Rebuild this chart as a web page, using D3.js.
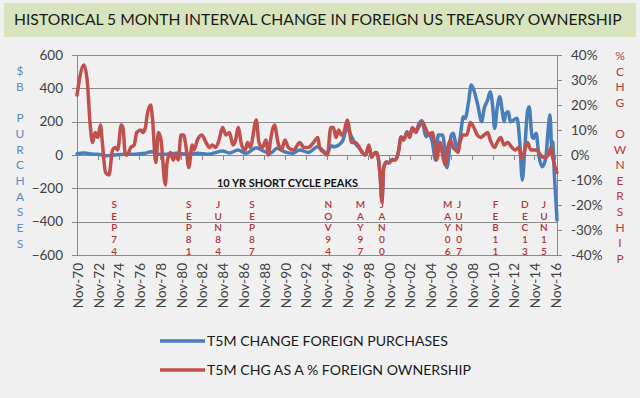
<!DOCTYPE html>
<html><head><meta charset="utf-8">
<script src="https://cdn.jsdelivr.net/npm/d3@7"></script>
<style>body{margin:0;background:#f0f0f0;} svg{display:block;font-family:Lato,"Open Sans",sans-serif;}</style>
</head><body>
<svg id="chart" width="640" height="398"></svg>
<script>
// ---------- DATA ----------
const titleText = "HISTORICAL 5 MONTH INTERVAL CHANGE IN FOREIGN US TREASURY OWNERSHIP";
const seriesNames = ["T5M CHANGE FOREIGN PURCHASES", "T5M CHG AS A % FOREIGN OWNERSHIP"];
const xTickLabels = ["Nov-70","Nov-72","Nov-74","Nov-76","Nov-78","Nov-80","Nov-82","Nov-84","Nov-86","Nov-88","Nov-90","Nov-92","Nov-94","Nov-96","Nov-98","Nov-00","Nov-02","Nov-04","Nov-06","Nov-08","Nov-10","Nov-12","Nov-14","Nov-16"];
const leftTicks = [-600,-400,-200,0,200,400,600];
const rightTicks = [-40,-30,-20,-10,0,10,20,30,40];
const leftTitle = ["$","B","","P","U","R","C","H","A","S","E","S"];
const rightTitle = ["%","C","H","G","","O","W","N","E","R","S","H","I","P"];
const peakNote = "10 YR SHORT CYCLE PEAKS";
const peakLabels = ["SEP74","SEP81","JUN84","SEP87","NOV94","MAY97","JAN00","MAY06","JUN07","FEB11","DEC13","JUN15"];
const peakPlacement = ["1974-06","1981-08","1984-06","1987-09","1995-01","1998-02","2000-03","2006-07","2007-08","2011-02","2013-12","2015-10"];

// T5M change foreign purchases ($B)
const purchases = [["1970-11",8],["1971-07",12],["1972-06",5],["1973-03",2],["1973-09",-5],["1974-06",0],["1975-06",5],["1976-06",5],["1977-06",10],["1977-12",20],["1978-10",5],["1979-06",5],["1980-06",10],["1981-06",5],["1982-06",10],["1983-06",5],["1984-11",24],["1985-07",12],["1986-05",30],["1987-02",10],["1988-02",44],["1988-10",24],["1989-06",10],["1990-02",40],["1990-10",20],["1991-08",10],["1992-04",30],["1993-02",15],["1994-01",50],["1994-06",30],["1994-12",10],["1995-04",55],["1995-08",50],["1996-05",80],["1996-11",160],["1997-03",120],["1997-08",70],["1998-01",40],["1998-08",0],["1998-12",50],["1999-03",-10],["1999-07",10],["1999-10",0],["2000-01",-130],["2000-03",-270],["2000-05",-80],["2000-08",-40],["2000-11",-50],["2001-03",-25],["2001-06",-30],["2001-10",20],["2002-01",110],["2002-04",90],["2002-08",140],["2002-11",110],["2003-02",160],["2003-06",140],["2003-09",180],["2004-01",205],["2004-06",110],["2004-09",130],["2005-01",80],["2005-05",-30],["2005-08",120],["2006-01",120],["2006-06",-76],["2006-11",120],["2007-01",130],["2007-06",30],["2007-09",100],["2008-01",230],["2008-03",220],["2008-07",320],["2008-10",420],["2009-01",390],["2009-06",290],["2009-10",200],["2010-01",280],["2010-05",330],["2010-08",380],["2010-11",280],["2011-01",160],["2011-04",280],["2011-07",350],["2011-10",260],["2011-12",200],["2012-02",250],["2012-05",260],["2012-07",200],["2012-11",210],["2013-03",220],["2013-06",80],["2013-09",-150],["2013-12",50],["2014-03",260],["2014-05",290],["2014-08",120],["2014-10",100],["2015-01",130],["2015-04",0],["2015-08",-70],["2015-12",-20],["2016-03",160],["2016-05",240],["2016-07",40],["2016-08",80],["2016-10",-120],["2017-01",-390]];

// T5M change as % of foreign ownership (%)
const ownershipPct = [["1970-11",24],["1971-07",36],["1971-11",29],["1972-02",13],["1972-05",5],["1972-08",9],["1972-11",7],["1973-02",12],["1973-04",6],["1973-08",-7],["1973-12",-8],["1974-04",2],["1974-07",3],["1974-10",2],["1975-02",12],["1975-04",11],["1975-07",0],["1975-09",0],["1976-01",3],["1976-05",4],["1976-08",9],["1977-01",10],["1977-03",9],["1977-06",11],["1977-08",16],["1977-12",20],["1978-02",15],["1978-06",-3],["1978-09",9],["1978-12",6],["1979-05",-12],["1979-07",-3],["1979-11",1],["1980-02",-2],["1980-05",0],["1980-08",-2],["1980-11",8],["1981-02",8],["1981-05",3],["1981-08",-5],["1981-12",4],["1982-02",2],["1982-06",6],["1982-11",8],["1983-04",5],["1983-08",3],["1983-11",4],["1984-03",3],["1984-07",6],["1984-11",11],["1985-03",8],["1985-07",9],["1985-11",4],["1986-02",6],["1986-05",11],["1986-09",4],["1987-01",2],["1987-04",5],["1987-07",3],["1988-02",14],["1988-05",5],["1988-09",3],["1989-01",6],["1989-04",0],["1989-06",5],["1989-11",12],["1990-03",5],["1990-07",2],["1990-11",6],["1991-03",3],["1991-09",2],["1992-04",5],["1992-09",3],["1993-02",3],["1993-08",5],["1994-01",7],["1994-03",3],["1994-08",1],["1994-12",0],["1995-04",11],["1995-07",11],["1995-10",7],["1996-01",10],["1996-04",8],["1996-07",9],["1996-11",14],["1997-01",11],["1997-04",5],["1997-08",5],["1998-01",3],["1998-04",1],["1998-08",0],["1998-12",4],["1999-03",-1],["1999-07",1],["1999-09",1],["2000-01",-9],["2000-03",-19],["2000-05",-5],["2000-08",-3],["2000-11",-3],["2001-03",-2],["2001-06",-2],["2001-10",1],["2002-01",7],["2002-04",6],["2002-08",9],["2002-11",7],["2003-02",11],["2003-06",9],["2003-09",11],["2004-02",13],["2004-05",11],["2004-09",8],["2005-01",9],["2005-04",4],["2005-06",-2],["2005-10",5],["2006-01",0],["2006-04",-4],["2006-07",3],["2006-10",6],["2007-01",3],["2007-04",2],["2007-07",1],["2007-09",5],["2008-01",8],["2008-05",8],["2008-09",13],["2009-01",11],["2009-05",8],["2009-09",7],["2010-01",8],["2010-05",9],["2010-08",6],["2011-01",3],["2011-04",5],["2011-08",7],["2011-12",4],["2012-04",5],["2012-09",3],["2013-01",2],["2013-05",3],["2013-08",-1],["2013-11",1],["2014-03",5],["2014-07",2],["2014-10",2],["2015-02",2],["2015-06",0],["2015-10",-1],["2016-03",0],["2016-06",3],["2016-08",-1],["2017-01",-7]];

// ---------- DRAW ----------
const parse = d3.timeParse("%Y-%m");
const svg = d3.select("#chart");
const W = 640, H = 398;
const plot = {left: 77, right: 557, top: 55, bottom: 255};
const FONT = 'Lato, "Open Sans", sans-serif';
const blue = "#4a7ebb", red = "#c0504d", grid = "#8a8a8a", txt = "#404040";

svg.append("rect").attr("width", W).attr("height", H).attr("fill", "#f0f0f0");

// title band
svg.append("rect").attr("x", 4).attr("y", 3).attr("width", 632).attr("height", 34).attr("fill", "#d7e4bd");
function fit(sel, width) {
  const w = sel.node().getComputedTextLength();
  const fs = parseFloat(sel.attr("font-size"));
  sel.attr("font-size", (fs * width / w).toFixed(2));
}
const title = svg.append("text").attr("x", 14).attr("y", 25).attr("font-size", 17)
  .attr("fill", "#1a1a1a").attr("font-family", FONT).text(titleText);
fit(title, 608);

const x = d3.scaleTime().domain([new Date(1970, 10, 1), new Date(2017, 0, 1)]).range([plot.left, plot.right]);
const yL = d3.scaleLinear().domain([-600, 600]).range([plot.bottom, plot.top]);
const yR = d3.scaleLinear().domain([-40, 40]).range([plot.bottom, plot.top]);

// gridlines
svg.append("g").attr("transform", `translate(${plot.left},0)`)
  .call(d3.axisLeft(yL).tickValues(leftTicks).tickSize(-(plot.right - plot.left)).tickFormat(""))
  .call(g => g.select(".domain").remove())
  .call(g => g.selectAll("line").attr("stroke", grid).attr("stroke-width", 1).attr("shape-rendering", "crispEdges"));

// left axis
svg.append("g").attr("transform", `translate(${plot.left},0)`)
  .call(d3.axisLeft(yL).tickValues(leftTicks).tickSize(5).tickPadding(9))
  .call(g => g.select(".domain").attr("stroke", grid).attr("shape-rendering", "crispEdges"))
  .call(g => g.selectAll("line").attr("stroke", grid).attr("shape-rendering", "crispEdges"))
  .call(g => g.selectAll("text").attr("font-size", 13.5).attr("font-family", FONT).attr("fill", txt));

// right axis
svg.append("g").attr("transform", `translate(${plot.right},0)`)
  .call(d3.axisRight(yR).tickValues(rightTicks).tickSize(5).tickPadding(9).tickFormat(d => d + "%"))
  .call(g => g.select(".domain").attr("stroke", grid).attr("shape-rendering", "crispEdges"))
  .call(g => g.selectAll("line").attr("stroke", grid).attr("shape-rendering", "crispEdges"))
  .call(g => g.selectAll("text").attr("font-size", 13.5).attr("font-family", FONT).attr("fill", txt));

// x axis ticks at zero line
const tickDates = xTickLabels.map(s => d3.timeParse("%b-%y")(s));
svg.append("g").attr("transform", `translate(0,${yL(0)})`)
  .call(d3.axisBottom(x).tickValues(tickDates).tickSize(5).tickFormat(""))
  .call(g => g.select(".domain").attr("stroke", grid).attr("shape-rendering", "crispEdges"))
  .call(g => g.selectAll("line").attr("stroke", grid).attr("shape-rendering", "crispEdges"));

// x labels (low position)
svg.append("g").selectAll("text").data(xTickLabels).join("text")
  .attr("transform", (d, i) => `translate(${x(tickDates[i]) + 1},263) rotate(-90)`)
  .attr("dy", "0.35em").attr("text-anchor", "end")
  .attr("font-size", 13.5).attr("font-family", FONT).attr("fill", txt).text(d => d);

// axis titles (stacked letters)
svg.append("g").selectAll("text").data(leftTitle).join("text")
  .attr("x", 20).attr("y", (d, i) => 75 + i * 15.7).attr("text-anchor", "middle")
  .attr("font-size", 12).attr("font-family", FONT).attr("fill", "#5b8ac4").text(d => d);
svg.append("g").selectAll("text").data(rightTitle).join("text")
  .attr("x", 620).attr("y", (d, i) => 60 + i * 15.6).attr("text-anchor", "middle")
  .attr("font-size", 12).attr("font-family", FONT).attr("fill", "#b8383b").text(d => d);

// annotations
const note = svg.append("text").attr("x", 217).attr("y", 187).attr("font-size", 11).attr("font-weight", "bold")
  .attr("font-family", FONT).attr("fill", "#111").text(peakNote);
fit(note, 141);
const pk = svg.append("g").selectAll("g").data(peakLabels).join("g")
  .attr("transform", (d, i) => `translate(${x(parse(peakPlacement[i]))},0)`);
pk.selectAll("text").data(d => d.split("")).join("text")
  .attr("x", 0).attr("y", (d, i) => 208 + i * 11.65).attr("text-anchor", "middle")
  .attr("font-size", 10).attr("font-weight", 600).attr("font-family", FONT).attr("fill", "#b0343a").text(d => d);

// lines
const line = yScale => d3.line().x(d => x(parse(d[0]))).y(d => yScale(d[1])).curve(d3.curveMonotoneX);
svg.append("path").datum(purchases).attr("d", line(yL)).attr("fill", "none")
  .attr("stroke", blue).attr("stroke-width", 3.5).attr("stroke-linejoin", "round").attr("stroke-linecap", "round");
svg.append("path").datum(ownershipPct).attr("d", line(yR)).attr("fill", "none")
  .attr("stroke", red).attr("stroke-width", 3.5).attr("stroke-linejoin", "round").attr("stroke-linecap", "round");

// legend
const leg = svg.append("g");
[[blue, 341, 241], [red, 370, 264]].forEach((c, i) => {
  leg.append("line").attr("x1", 160).attr("x2", 205).attr("y1", c[1]).attr("y2", c[1])
    .attr("stroke", c[0]).attr("stroke-width", 3.5);
  const t = leg.append("text").attr("x", 207).attr("y", c[1]).attr("dy", "0.35em").attr("font-size", 15)
    .attr("font-family", FONT).attr("fill", "#1a1a1a").text(seriesNames[i]);
  fit(t, c[2]);
});
</script>
</body></html>
